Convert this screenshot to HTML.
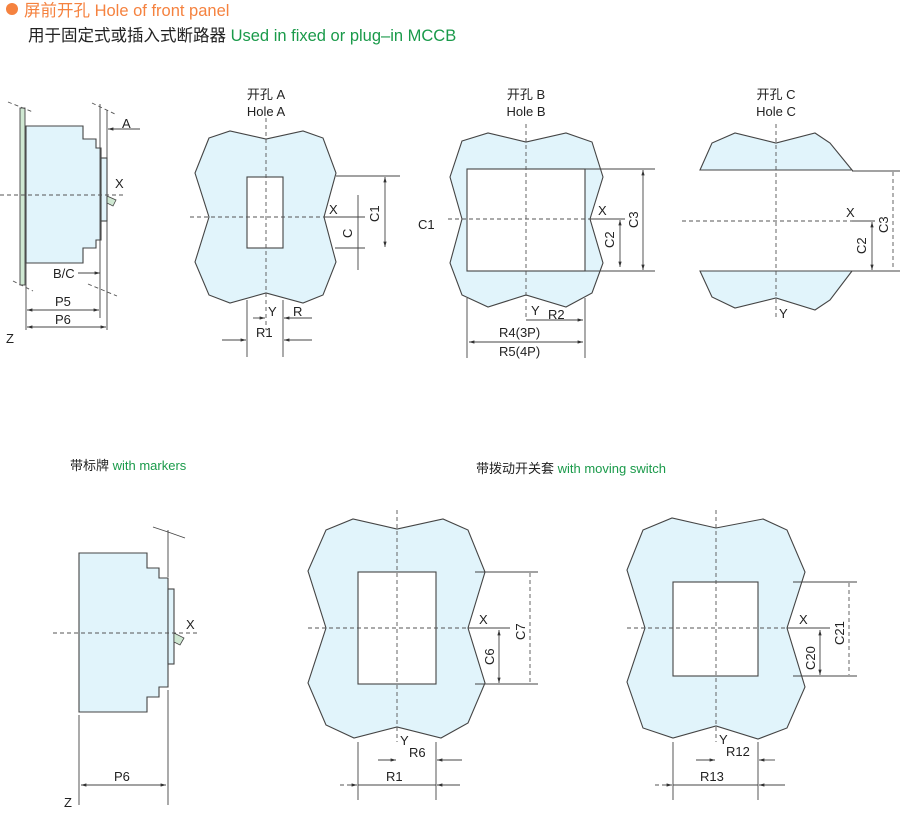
<!DOCTYPE html>
<html><head><meta charset="utf-8"><style>
html,body{margin:0;padding:0;background:#fff}
svg{display:block}
text{font-family:"Liberation Sans","Noto Sans CJK SC",sans-serif;fill:#222}
.f{fill:#e1f4fb;stroke:#444;stroke-width:1.1}
.w{fill:#fff;stroke:#444;stroke-width:1.1}
.l{stroke:#444;stroke-width:0.9;fill:none}
.d{stroke:#555;stroke-width:0.9;stroke-dasharray:4 3;fill:none}
.t{font-size:13px}
</style></head><body>
<svg width="900" height="829" viewBox="0 0 900 829" xmlns="http://www.w3.org/2000/svg">
<defs>
<marker id="a" viewBox="0 0 10 10" refX="10" refY="5" markerWidth="6" markerHeight="6" orient="auto-start-reverse"><path d="M0,2 L10,5 L0,8z" fill="#333"/></marker>
</defs>
<!-- header -->
<circle cx="12" cy="9" r="6" fill="#f5823f"/>
<text x="24" y="16" style="font-size:16.5px;fill:#f5823f">屏前开孔 Hole of front panel</text>
<text x="28" y="41" style="font-size:16.5px;fill:#222">用于固定式或插入式断路器 <tspan style="fill:#1a9a4a">Used in fixed or plug–in MCCB</tspan></text>

<!-- side view top-left -->
<rect x="20" y="108" width="5" height="177" fill="#cfe8d2" stroke="#444" stroke-width="0.9"/>
<path class="f" d="M26,126 H83 V139 H96 V148 H101 V240 H96 V248 H83 V263 H26Z"/>
<rect class="f" x="101" y="158" width="6" height="63"/>
<path d="M107,196 L116,200 L113,206 L107,203Z" fill="#cfe8d2" stroke="#444" stroke-width="0.8"/>
<line class="l" x1="100" y1="104" x2="100" y2="318"/>
<line class="l" x1="107" y1="110" x2="107" y2="330"/>
<line class="l" x1="26" y1="263" x2="26" y2="330"/>
<line class="d" x1="0" y1="195" x2="125" y2="195"/>
<line class="d" x1="8" y1="102" x2="33" y2="112"/>
<line class="d" x1="92" y1="103" x2="115" y2="114"/>
<line class="d" x1="13" y1="281" x2="33" y2="291"/>
<line class="d" x1="88" y1="284" x2="117" y2="296"/>
<text class="t" x="122" y="128">A</text>
<line class="l" x1="140" y1="129" x2="108" y2="129" marker-end="url(#a)"/>
<text class="t" x="115" y="188">X</text>
<text class="t" x="53" y="278">B/C</text>
<line class="l" x1="78" y1="273" x2="100" y2="273" marker-end="url(#a)"/>
<text class="t" x="55" y="306">P5</text>
<line class="l" x1="27" y1="310" x2="99" y2="310" marker-start="url(#a)" marker-end="url(#a)"/>
<text class="t" x="55" y="324">P6</text>
<line class="l" x1="27" y1="327" x2="106" y2="327" marker-start="url(#a)" marker-end="url(#a)"/>
<text class="t" x="6" y="343">Z</text>

<!-- Hole A -->
<text class="t" x="266" y="99" text-anchor="middle">开孔 A</text>
<text class="t" x="266" y="116" text-anchor="middle">Hole A</text>
<path class="f" d="M209,138 L230,131 L266,139 L303,131 L323,138 L336,173 L324,217 L336,262 L323,295 L303,303 L266,293 L230,303 L209,295 L195,262 L209,217 L195,173Z"/>
<rect class="w" x="247" y="177" width="36" height="71"/>
<line class="d" x1="266" y1="118" x2="266" y2="330"/>
<line class="d" x1="190" y1="217" x2="345" y2="217"/>
<line class="l" x1="336" y1="176" x2="400" y2="176"/>
<line class="l" x1="335" y1="248" x2="365" y2="248"/>
<line class="l" x1="324" y1="217" x2="365" y2="217"/>
<line class="l" x1="385" y1="177" x2="385" y2="247" marker-start="url(#a)" marker-end="url(#a)"/>
<line class="l" x1="358" y1="195" x2="358" y2="270"/>
<text class="t" x="329" y="214">X</text>
<text class="t" transform="translate(352,238) rotate(-90)">C</text>
<text class="t" transform="translate(379,222) rotate(-90)">C1</text>
<line class="l" x1="247" y1="300" x2="247" y2="357"/>
<line class="l" x1="283" y1="300" x2="283" y2="357"/>
<text class="t" x="268" y="316">Y</text>
<text class="t" x="293" y="316">R</text>
<line class="l" x1="253" y1="318" x2="265" y2="318" marker-end="url(#a)"/>
<line class="l" x1="312" y1="318" x2="284" y2="318" marker-end="url(#a)"/>
<text class="t" x="256" y="337">R1</text>
<line class="l" x1="222" y1="340" x2="246" y2="340" marker-end="url(#a)"/>
<line class="l" x1="312" y1="340" x2="284" y2="340" marker-end="url(#a)"/>

<!-- Hole B -->
<text class="t" x="526" y="99" text-anchor="middle">开孔 B</text>
<text class="t" x="526" y="116" text-anchor="middle">Hole B</text>
<path class="f" d="M462,141 L488,133 L526,142 L566,133 L592,142 L603,177 L590,219 L603,263 L592,293 L566,307 L526,295 L488,307 L462,295 L450,263 L462,219 L450,177Z"/>
<rect class="w" x="467" y="169" width="118" height="102"/>
<line class="d" x1="526" y1="124" x2="526" y2="320"/>
<line class="d" x1="448" y1="219" x2="600" y2="219"/>
<line class="l" x1="590" y1="219" x2="625" y2="219"/>
<line class="l" x1="585" y1="169" x2="655" y2="169"/>
<line class="l" x1="585" y1="271" x2="655" y2="271"/>
<line class="l" x1="643" y1="170" x2="643" y2="270" marker-start="url(#a)" marker-end="url(#a)"/>
<line class="l" x1="620" y1="220" x2="620" y2="267" marker-start="url(#a)" marker-end="url(#a)"/>
<text class="t" x="598" y="215">X</text>
<text class="t" transform="translate(614,248) rotate(-90)">C2</text>
<text class="t" transform="translate(638,228) rotate(-90)">C3</text>
<text class="t" x="418" y="229">C1</text>
<line class="l" x1="467" y1="298" x2="467" y2="358"/>
<line class="l" x1="585" y1="298" x2="585" y2="358"/>
<text class="t" x="531" y="315">Y</text>
<text class="t" x="548" y="319">R2</text>
<line class="l" x1="526" y1="320" x2="583" y2="320" marker-end="url(#a)"/>
<text class="t" x="499" y="337">R4(3P)</text>
<line class="l" x1="469" y1="342" x2="583" y2="342" marker-start="url(#a)" marker-end="url(#a)"/>
<text class="t" x="499" y="356">R5(4P)</text>

<!-- Hole C -->
<text class="t" x="776" y="99" text-anchor="middle">开孔 C</text>
<text class="t" x="776" y="116" text-anchor="middle">Hole C</text>
<path class="f" d="M700,170 L712,143 L735,133 L776,143 L815,133 L830,143 L852,170Z"/>
<path class="f" d="M700,271 L712,297 L735,308 L776,298 L815,310 L830,300 L852,271Z"/>
<line class="d" x1="776" y1="124" x2="776" y2="320"/>
<line class="d" x1="682" y1="221" x2="860" y2="221"/>
<line class="l" x1="852" y1="221" x2="875" y2="221"/>
<line class="l" x1="852" y1="171" x2="900" y2="171"/>
<line class="l" x1="852" y1="271" x2="900" y2="271"/>
<line class="d" x1="893" y1="172" x2="893" y2="270"/>
<line class="l" x1="872" y1="222" x2="872" y2="270" marker-start="url(#a)" marker-end="url(#a)"/>
<text class="t" x="846" y="217">X</text>
<text class="t" transform="translate(866,254) rotate(-90)">C2</text>
<text class="t" transform="translate(888,233) rotate(-90)">C3</text>
<text class="t" x="779" y="318">Y</text>

<!-- section labels -->
<text class="t" x="70" y="470">带标牌 <tspan style="fill:#1a9a4a">with markers</tspan></text>
<text class="t" x="476" y="473">带拨动开关套 <tspan style="fill:#1a9a4a">with moving switch</tspan></text>

<!-- bottom-left side view -->
<path class="f" d="M79,553 H147 V568 H159 V578 H168 V687 H159 V697 H147 V712 H79Z"/>
<rect class="f" x="168" y="589" width="6" height="75"/>
<path d="M174,633 L184,638 L180,645 L174,642Z" fill="#cfe8d2" stroke="#444" stroke-width="0.8"/>
<line class="d" x1="53" y1="633" x2="200" y2="633"/>
<line class="l" x1="168" y1="530" x2="168" y2="577"/>
<line class="l" x1="168" y1="690" x2="168" y2="805"/>
<line class="l" x1="153" y1="527" x2="168" y2="532"/>
<line class="l" x1="168" y1="532" x2="185" y2="538"/>
<line class="l" x1="79" y1="715" x2="79" y2="805"/>
<text class="t" x="186" y="629">X</text>
<text class="t" x="114" y="781">P6</text>
<line class="l" x1="81" y1="785" x2="166" y2="785" marker-start="url(#a)" marker-end="url(#a)"/>
<text class="t" x="64" y="807">Z</text>

<!-- bottom middle -->
<path class="f" d="M326,530 L353,519 L397,529 L443,519 L468,530 L485,572 L468,628 L485,683 L468,723 L441,738 L397,727 L354,738 L326,725 L308,683 L326,628 L308,571Z"/>
<rect class="w" x="358" y="572" width="78" height="112"/>
<line class="d" x1="397" y1="510" x2="397" y2="742"/>
<line class="d" x1="308" y1="628" x2="475" y2="628"/>
<line class="l" x1="468" y1="628" x2="510" y2="628"/>
<line class="l" x1="475" y1="572" x2="538" y2="572"/>
<line class="l" x1="475" y1="684" x2="538" y2="684"/>
<line class="d" x1="530" y1="573" x2="530" y2="683"/>
<line class="l" x1="499" y1="630" x2="499" y2="683" marker-start="url(#a)" marker-end="url(#a)"/>
<text class="t" x="479" y="624">X</text>
<text class="t" transform="translate(494,665) rotate(-90)">C6</text>
<text class="t" transform="translate(525,640) rotate(-90)">C7</text>
<line class="l" x1="358" y1="742" x2="358" y2="800"/>
<line class="l" x1="436" y1="742" x2="436" y2="800"/>
<text class="t" x="400" y="745">Y</text>
<text class="t" x="409" y="757">R6</text>
<line class="l" x1="378" y1="760" x2="396" y2="760" marker-end="url(#a)"/>
<line class="l" x1="462" y1="760" x2="437" y2="760" marker-end="url(#a)"/>
<text class="t" x="386" y="781">R1</text>
<line class="d" x1="340" y1="785" x2="350" y2="785"/>
<line class="l" x1="350" y1="785" x2="357" y2="785" marker-end="url(#a)"/>
<line class="l" x1="358" y1="785" x2="436" y2="785"/>
<line class="l" x1="460" y1="785" x2="437" y2="785" marker-end="url(#a)"/>

<!-- bottom right -->
<path class="f" d="M643,530 L672,518 L716,528 L763,519 L787,530 L805,572 L787,628 L805,687 L787,728 L758,739 L716,726 L673,738 L643,728 L627,682 L645,628 L627,570Z"/>
<rect class="w" x="673" y="582" width="85" height="94"/>
<line class="d" x1="716" y1="510" x2="716" y2="742"/>
<line class="d" x1="627" y1="628" x2="795" y2="628"/>
<line class="l" x1="787" y1="628" x2="830" y2="628"/>
<line class="l" x1="793" y1="582" x2="857" y2="582"/>
<line class="l" x1="793" y1="676" x2="857" y2="676"/>
<line class="d" x1="849" y1="583" x2="849" y2="675"/>
<line class="l" x1="820" y1="630" x2="820" y2="675" marker-start="url(#a)" marker-end="url(#a)"/>
<text class="t" x="799" y="624">X</text>
<text class="t" transform="translate(815,670) rotate(-90)">C20</text>
<text class="t" transform="translate(844,645) rotate(-90)">C21</text>
<line class="l" x1="673" y1="742" x2="673" y2="800"/>
<line class="l" x1="758" y1="742" x2="758" y2="800"/>
<text class="t" x="719" y="744">Y</text>
<text class="t" x="726" y="756">R12</text>
<line class="l" x1="696" y1="760" x2="715" y2="760" marker-end="url(#a)"/>
<line class="l" x1="775" y1="760" x2="759" y2="760" marker-end="url(#a)"/>
<text class="t" x="700" y="781">R13</text>
<line class="d" x1="655" y1="785" x2="664" y2="785"/>
<line class="l" x1="664" y1="785" x2="672" y2="785" marker-end="url(#a)"/>
<line class="l" x1="673" y1="785" x2="758" y2="785"/>
<line class="l" x1="785" y1="785" x2="759" y2="785" marker-end="url(#a)"/>
</svg>
</body></html>
